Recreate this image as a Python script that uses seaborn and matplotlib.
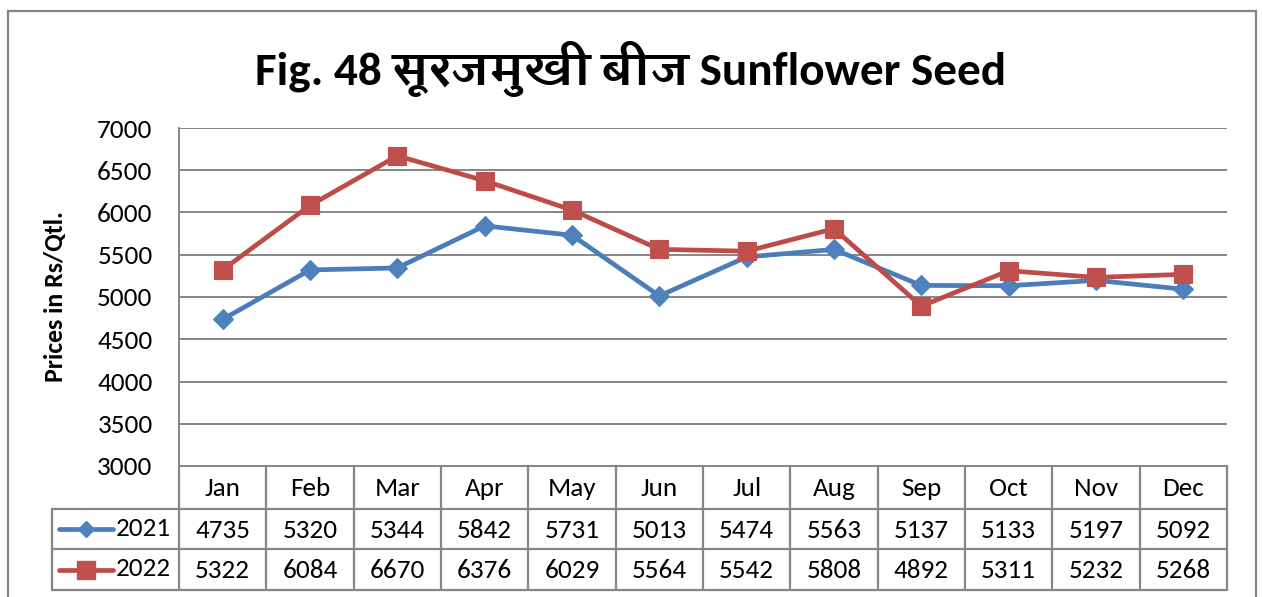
import numpy as np
import pandas as pd
import matplotlib
matplotlib.use("Agg")
import matplotlib.pyplot as plt
from matplotlib import font_manager
from matplotlib.lines import Line2D
from matplotlib.patches import Rectangle
import seaborn as sns

# ---- data -------------------------------------------------------------
months = ["Jan", "Feb", "Mar", "Apr", "May", "Jun",
          "Jul", "Aug", "Sep", "Oct", "Nov", "Dec"]
prices_2021 = [4735, 5320, 5344, 5842, 5731, 5013, 5474, 5563, 5137, 5133, 5197, 5092]
prices_2022 = [5322, 6084, 6670, 6376, 6029, 5564, 5542, 5808, 4892, 5311, 5232, 5268]
years = ["2021", "2022"]
yticks = [3000, 3500, 4000, 4500, 5000, 5500, 6000, 6500, 7000]

title_text = "Fig. 48 सूरजमुखी बीज Sunflower Seed"
ylabel_text = "Prices in Rs/Qtl."

df = pd.DataFrame({
    "month": months * 2,
    "price": prices_2021 + prices_2022,
    "year": [years[0]] * 12 + [years[1]] * 12,
})

# ---- style ------------------------------------------------------------
sns.set_theme(style="white")
installed = {f.name for f in font_manager.fontManager.ttflist}
BASE = "Carlito" if "Carlito" in installed else "Lato"
DEVA = "Amiko" if "Amiko" in installed else "FreeSans"
title_family = [BASE, DEVA, "DejaVu Sans"]
plt.rcParams["font.family"] = [BASE, "DejaVu Sans"]
plt.rcParams["text.color"] = "black"
plt.rcParams["axes.labelcolor"] = "black"

BLUE = "#4A7EBB"
BLUE_FILL = "#4F81BD"
RED = "#BE4B48"
RED_FILL = "#C0504D"
GRID = "#868686"
palette = {"2021": BLUE, "2022": RED}
markers = {"2021": "D", "2022": "s"}

W, H = 1262, 597
fig = plt.figure(figsize=(W / 100, H / 100), dpi=100)

# plot area in pixel coordinates (from top-left)
L, R, T, B = 179, 1227, 128, 466
ax = fig.add_axes([L / W, 1 - B / H, (R - L) / W, (B - T) / H])

sns.lineplot(data=df, x="month", y="price", hue="year", style="year",
             palette=palette, markers=markers, dashes=False, sort=False,
             linewidth=3.4, legend=False, ax=ax)
for ln, fc, ms in zip(ax.lines, [BLUE_FILL, RED_FILL], [10, 13.5]):
    ln.set_markersize(ms)
    ln.set_markerfacecolor(fc)
    ln.set_markeredgecolor(fc)
    ln.set_markeredgewidth(0.8)
    ln.set_solid_joinstyle("round")

FS = 19.5
ax.set_xlim(-0.5, 11.5)
ax.set_ylim(3000, 7000)
ax.set_yticks(yticks)
ax.set_yticklabels([str(v) for v in yticks], fontsize=FS, color="black")
ax.tick_params(axis="y", length=0, pad=19)
ax.set_xticks([])
ax.set_xlabel("")
ax.set_ylabel(ylabel_text, fontsize=18.5, fontweight="bold", color="black")
ax.yaxis.set_label_coords(-0.107, 0.5)
ax.grid(axis="y", color=GRID, linewidth=1.4)
ax.set_axisbelow(True)
for side in ["top", "right"]:
    ax.spines[side].set_visible(False)
for side in ["left", "bottom"]:
    ax.spines[side].set_color(GRID)
    ax.spines[side].set_linewidth(1.4)

# ---- data table under the axis -----------------------------------------
def fy(py):
    return 1 - py / H


def fx(px):
    return px / W


row_y = [466, 509, 549, 590]
legend_left = 52
col_w = (R - L) / 12
tbl_kw = dict(color=GRID, linewidth=1.6, transform=fig.transFigure, zorder=3)

for yy in row_y[1:]:
    fig.add_artist(Line2D([fx(legend_left), fx(R)], [fy(yy), fy(yy)], **tbl_kw))
for k in range(13):
    xx = L + k * col_w
    fig.add_artist(Line2D([fx(xx), fx(xx)], [fy(row_y[0]), fy(row_y[3])], **tbl_kw))
fig.add_artist(Line2D([fx(legend_left), fx(legend_left)], [fy(row_y[1]), fy(row_y[3])], **tbl_kw))

txt_kw = dict(transform=fig.transFigure, ha="center", va="center", fontsize=FS, color="black")
for k, m in enumerate(months):
    cx = L + (k + 0.5) * col_w
    fig.text(fx(cx), fy((row_y[0] + row_y[1]) / 2 + 1), m, **txt_kw)
    fig.text(fx(cx), fy((row_y[1] + row_y[2]) / 2 + 1), str(prices_2021[k]), **txt_kw)
    fig.text(fx(cx), fy((row_y[2] + row_y[3]) / 2 + 1), str(prices_2022[k]), **txt_kw)

# legend keys inside the table
for (yr, col, fc, mk, ms), (ya, yb) in zip(
        [("2021", BLUE, BLUE_FILL, "D", 8.5), ("2022", RED, RED_FILL, "s", 13)],
        [(row_y[1], row_y[2]), (row_y[2], row_y[3])]):
    cy = fy((ya + yb) / 2)
    fig.add_artist(Line2D([fx(59), fx(113)], [cy, cy], color=col, linewidth=3.4,
                          solid_capstyle="round", transform=fig.transFigure, zorder=4))
    fig.add_artist(Line2D([fx(86)], [cy], marker=mk, markersize=ms, color=fc,
                          markeredgecolor=fc, transform=fig.transFigure, zorder=5))
    fig.text(fx(171), cy + 0.001, yr, transform=fig.transFigure, ha="right", va="center",
             fontsize=FS, color="black")

# ---- title and outer frame --------------------------------------------
fig.text(fx(631), fy(69), title_text, ha="center", va="center", color="black",
         fontsize=34, fontweight="bold", family=title_family)

fig.add_artist(Rectangle((fx(8), fy(640)), fx(1256 - 8), (640 - 11) / H,
                         transform=fig.transFigure, fill=False,
                         edgecolor=GRID, linewidth=1.6, zorder=1))

fig.savefig("out.png", dpi=100)
